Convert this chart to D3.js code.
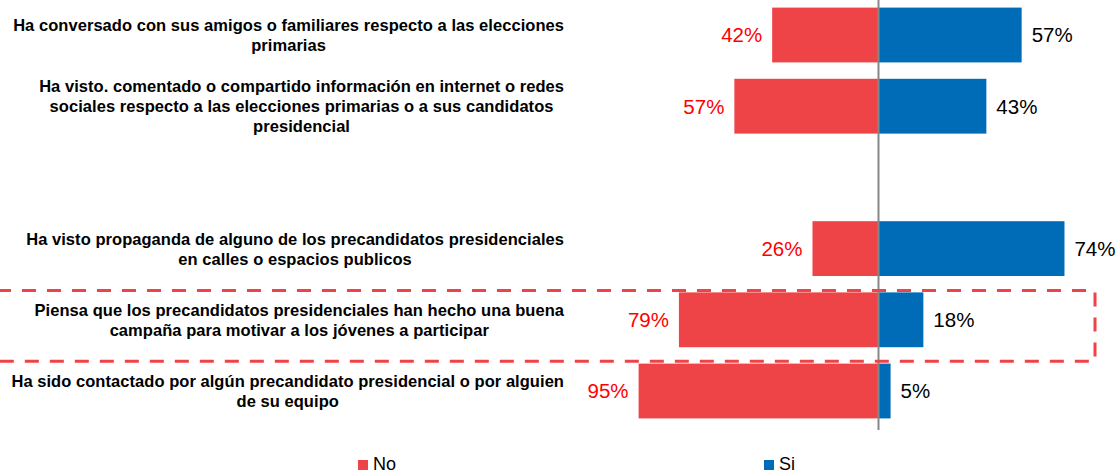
<!DOCTYPE html>
<html>
<head>
<meta charset="utf-8">
<script src="https://cdn.jsdelivr.net/npm/d3@7"></script>
<style>
	body { margin: 0; background: #fff; }
	svg { display: block; }
</style>
</head>
<body>
<svg id="chart" width="1120" height="475"></svg>
<script>
// Data
var categories = [
	"Ha conversado con sus amigos o familiares respecto a las elecciones\nprimarias",
	"Ha visto. comentado o compartido información en internet o redes\nsociales respecto a las elecciones primarias o a sus candidatos\npresidencial",
	"",
	"Ha visto propaganda de alguno de los precandidatos presidenciales\nen calles o espacios publicos",
	"Piensa que los precandidatos presidenciales han hecho una buena\ncampaña para motivar a los jóvenes a participar",
	"Ha sido contactado por algún precandidato presidencial o por alguien\nde su equipo"
];
var noValues = [42, 57, null, 26, 79, 95];
var siValues = [57, 43, null, 74, 18, 5];
var seriesNames = ["No", "Si"];
var highlighted = 4;

// Config
var W = 1120, H = 475;
var center = 878;
var pxPerPct = 2.52;
var red = "#EF4447", blue = "#006CB7";
var font = "'Liberation Sans', Arial, sans-serif";

var svg = d3.select("#chart");

var x = d3.scaleLinear()
	.domain([-100, 100])
	.range([center - 100 * pxPerPct, center + 100 * pxPerPct]);

var y = d3.scaleBand()
	.domain(d3.range(categories.length))
	.range([-0.6, 426.6])
	.paddingInner(0.23)
	.paddingOuter(0.115);

var rows = d3.range(categories.length).filter(function(i) { return noValues[i] != null; });

// Bars
var gBars = svg.append("g");
gBars.selectAll("rect.no").data(rows).join("rect")
	.attr("class", "no")
	.attr("x", function(i) { return x(-noValues[i]); })
	.attr("y", function(i) { return y(i); })
	.attr("width", function(i) { return x(0) - x(-noValues[i]); })
	.attr("height", y.bandwidth())
	.attr("fill", red);
gBars.selectAll("rect.si").data(rows).join("rect")
	.attr("class", "si")
	.attr("x", x(0))
	.attr("y", function(i) { return y(i); })
	.attr("width", function(i) { return x(siValues[i]) - x(0); })
	.attr("height", y.bandwidth())
	.attr("fill", blue);

// Center line
svg.append("line")
	.attr("x1", x(0) + 0.5).attr("x2", x(0) + 0.5)
	.attr("y1", 0).attr("y2", 430)
	.attr("stroke", "#878787").attr("stroke-width", 2);

// Value labels
var gVals = svg.append("g")
	.style("font-family", font).style("font-size", "20.5px");
gVals.selectAll("text.no").data(rows).join("text")
	.attr("class", "no")
	.attr("x", function(i) { return x(-noValues[i]) - 10; })
	.attr("y", function(i) { return y(i) + y.bandwidth() / 2; })
	.attr("dy", "0.36em")
	.attr("text-anchor", "end")
	.attr("fill", "#FF0000")
	.text(function(i) { return noValues[i] + "%"; });
gVals.selectAll("text.si").data(rows).join("text")
	.attr("class", "si")
	.attr("x", function(i) { return x(siValues[i]) + 10; })
	.attr("y", function(i) { return y(i) + y.bandwidth() / 2; })
	.attr("dy", "0.36em")
	.attr("fill", "#000")
	.text(function(i) { return siValues[i] + "%"; });

// Category labels: block right-aligned, lines centered inside it
var labelRight = 564, lineH = 20;
var gLabels = svg.append("g")
	.style("font-family", font).style("font-size", "16.5px").style("font-weight", "bold");
rows.forEach(function(i) {
	var lines = categories[i].split(/\n/);
	var cy = y(i) + y.bandwidth() / 2;
	var t0 = cy - (lines.length - 1) * lineH / 2;
	var texts = lines.map(function(line, k) {
		return gLabels.append("text")
			.attr("y", t0 + k * lineH)
			.attr("dy", "0.36em")
			.attr("text-anchor", "middle")
			.style("letter-spacing", "0.05px")
			.text(line);
	});
	var maxW = d3.max(texts, function(t) { return t.node().getComputedTextLength(); });
	texts.forEach(function(t) { t.attr("x", labelRight - maxW / 2); });
});

// Highlight box
svg.append("rect")
	.attr("x", -3)
	.attr("y", y(highlighted) - 2)
	.attr("width", 1098)
	.attr("height", y.bandwidth() + 16)
	.attr("fill", "none")
	.attr("stroke", "#EF4348")
	.attr("stroke-width", 3)
	.attr("stroke-dasharray", "14,11");

// Legend
var legendX = [358, 764];
var legendColors = [red, blue];
var gLeg = svg.append("g").style("font-family", font).style("font-size", "18px");
seriesNames.forEach(function(name, k) {
	gLeg.append("rect")
		.attr("x", legendX[k]).attr("y", 460)
		.attr("width", 10).attr("height", 10)
		.attr("fill", legendColors[k]);
	gLeg.append("text")
		.attr("x", legendX[k] + 15).attr("y", 470)
		.attr("fill", "#000")
		.text(name);
});
</script>
</body>
</html>
